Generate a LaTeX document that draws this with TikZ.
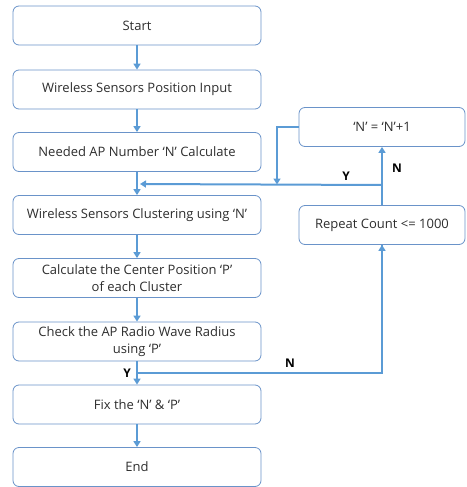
\documentclass[tikz,border=0pt]{standalone}
\usepackage{fontspec}
\setmainfont{Open Sans}
\usetikzlibrary{arrows.meta}
\definecolor{boxline}{HTML}{6A93C9}
\definecolor{arr}{HTML}{5B9BD5}
\definecolor{txt}{HTML}{2E2E2E}
\tikzset{
  box/.style={draw=boxline, line width=0.8pt, rounded corners=6pt, fill=white,
    minimum height=39pt, align=center, text=txt, font=\fontsize{13}{16.5}\selectfont, inner sep=1pt},
  lbox/.style={box, minimum width=248pt},
  rbox/.style={box, minimum width=166pt},
  flow/.style={draw=arr, line width=2pt, -{Triangle[width=7pt,length=6pt]}},
  flowline/.style={draw=arr, line width=2pt},
  yn/.style={font=\bfseries\fontsize{12}{14}\selectfont, text=black}
}
\begin{document}
\begin{tikzpicture}[x=1pt,y=-1pt]
\useasboundingbox (0,0) rectangle (466,487);
\node[lbox] (b1) at (137,25.5) {Start};
\node[lbox] (b2) at (137,89.5) {Wireless Sensors Position Input};
\node[lbox] (b3) at (137,152) {Needed AP Number ‘N’ Calculate};
\node[lbox] (b4) at (137,215) {Wireless Sensors Clustering using ‘N’};
\node[lbox] (b5) at (137,278) {Calculate the Center Position ‘P’\\of each Cluster};
\node[lbox] (b6) at (137,341.5) {Check the AP Radio Wave Radius\\using ‘P’};
\node[lbox] (b7) at (137,404.5) {Fix the ‘N’ \& ‘P’};
\node[lbox] (b8) at (137,467) {End};
\node[rbox] (nb) at (382,127) {‘N’ = ‘N’+1};
\node[rbox] (rc) at (382,225) {Repeat Count <= 1000};
\coordinate (j1) at (382,185);
\coordinate (m1) at (137,184);
\coordinate (l1) at (277,127);
\coordinate (l2) at (277,184.5);
\coordinate (j2) at (137,373);
\coordinate (r2) at (382,373);
\draw[flow] (b1) -- (b2);
\draw[flow] (b2) -- (b3);
\draw[flow] (b3) -- (b4);
\draw[flow] (b4) -- (b5);
\draw[flow] (b5) -- (b6);
\draw[flow] (b6) -- (b7);
\draw[flow] (b7) -- (b8);
\draw[flow] (rc) -- (nb);
\draw[flow] (j1) -- ([xshift=3pt]m1);
\draw[flow] (nb.west) -- (l1) -- (l2);
\draw[flowline] (j2) -- (r2) -- (rc.south);
\draw[flow] (r2) -- (rc.south);
\node[yn] (ly1) at (346,176) {Y};
\node[yn] (ln1) at (397,168) {N};
\node[yn] (ln2) at (290,363) {N};
\node[yn] (ly2) at (127,373) {Y};
\end{tikzpicture}
\end{document}
